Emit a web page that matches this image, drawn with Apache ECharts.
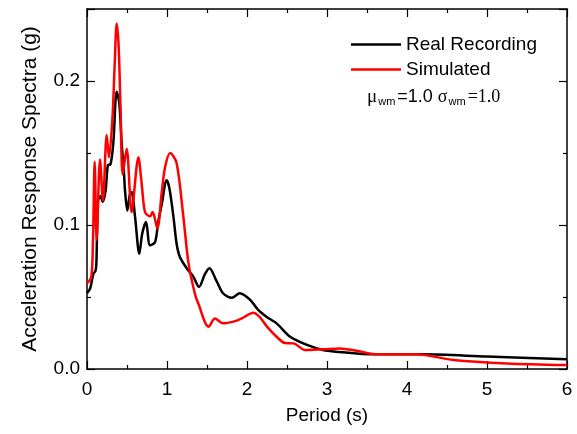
<!DOCTYPE html>
<html><head><meta charset="utf-8">
<script src="https://cdn.jsdelivr.net/npm/echarts@6/dist/echarts.min.js"></script>
<style>html,body{margin:0;padding:0;background:#fff}#c{width:577px;height:434px}</style>
</head><body><div id="c"></div>
<script>
var realPeriod = [0,0.04,0.079,0.105,0.117,0.1375,0.17,0.196,0.233,0.2625,0.292,0.329,0.371,0.404,0.433,0.4625,0.475,0.504,0.535,0.558,0.6,0.654,0.69,0.7375,0.7875,0.85,0.89,0.933,0.996,1.03,1.08,1.12,1.16,1.246,1.33,1.40,1.475,1.53,1.62,1.70,1.81,1.91,2.04,2.14,2.25,2.37,2.54,2.75,2.95,3.16,3.37,3.62,4.2,5.0,6.0];
var realSA = [0.0526,0.056,0.066,0.068,0.073,0.117,0.12,0.116,0.124,0.1417,0.142,0.157,0.1926,0.1845,0.157,0.136,0.124,0.110,0.121,0.123,0.106,0.080,0.094,0.102,0.086,0.088,0.102,0.114,0.131,0.1255,0.106,0.087,0.078,0.070,0.064,0.057,0.066,0.070,0.061,0.0526,0.0495,0.0526,0.048,0.041,0.036,0.0317,0.0224,0.0167,0.0132,0.0118,0.0108,0.0102,0.0102,0.0086,0.0067];
var simPeriod = [0,0.054,0.075,0.096,0.121,0.1625,0.2,0.246,0.275,0.317,0.345,0.371,0.395,0.42,0.446,0.496,0.558,0.642,0.683,0.725,0.7875,0.82,0.879,0.933,0.975,1.04,1.12,1.2,1.27,1.35,1.39,1.52,1.6,1.70,1.83,1.93,2.08,2.16,2.25,2.37,2.475,2.58,2.725,2.95,3.16,3.37,3.62,4.12,4.58,5.25,6.0];
var simSA = [0.0595,0.064,0.09,0.144,0.0896,0.1455,0.117,0.1625,0.147,0.173,0.21,0.240,0.225,0.18,0.135,0.153,0.109,0.147,0.129,0.109,0.106,0.109,0.0977,0.122,0.140,0.150,0.143,0.108,0.073,0.052,0.0456,0.0294,0.035,0.0317,0.0329,0.035,0.039,0.036,0.0294,0.0224,0.018,0.0178,0.0132,0.0137,0.0143,0.0127,0.0102,0.0102,0.0063,0.0039,0.0028];
var seriesNames = ['Real Recording','Simulated'];
var xTitle = 'Period (s)';
var yTitle = 'Acceleration Response Spectra (g)';

function pairs(a,b){return a.map(function(v,i){return [v,b[i]];});}
var FONT = '"Liberation Sans", Arial, sans-serif';
var chart = echarts.init(document.getElementById('c'), null, {renderer:'canvas'});
function axLine(){return {show:true, onZero:false, lineStyle:{color:'#000', width:1.5}};}
function tick(){return {show:true, inside:true, length:8, lineStyle:{color:'#000', width:1.2}};}
function mtick(){return {show:true, splitNumber:2, length:4, lineStyle:{color:'#000', width:1.2}};}
chart.setOption({
  animation:false,
  grid:{left:87, right:10, top:9, bottom:65},
  xAxis:[{
    type:'value', min:0, max:6, interval:1, position:'bottom',
    axisLine:axLine(), axisTick:tick(), minorTick:mtick(),
    splitLine:{show:false},
    axisLabel:{color:'#000', fontSize:19, fontFamily:FONT, margin:11},
    name:xTitle, nameLocation:'middle', nameGap:37,
    nameTextStyle:{color:'#000', fontSize:19, fontFamily:FONT}
  },{
    type:'value', min:0, max:6, interval:1, position:'top',
    axisLine:axLine(), axisTick:tick(), minorTick:mtick(),
    splitLine:{show:false}, axisLabel:{show:false}
  }],
  yAxis:[{
    type:'value', min:0, max:0.25, interval:0.1, position:'left',
    axisLine:axLine(), axisTick:tick(), minorTick:mtick(),
    splitLine:{show:false},
    axisLabel:{color:'#000', fontSize:19, fontFamily:FONT, margin:7, showMaxLabel:false,
      formatter:function(v){return v.toFixed(1);}},
    name:yTitle, nameLocation:'middle', nameGap:46,
    nameTextStyle:{color:'#000', fontSize:21, fontFamily:FONT}
  },{
    type:'value', min:0, max:0.25, interval:0.1, position:'right',
    axisLine:axLine(), axisTick:tick(), minorTick:mtick(),
    splitLine:{show:false}, axisLabel:{show:false}
  }],
  legend:{
    show:true, left:346, top:30, orient:'vertical', itemGap:6,
    itemWidth:50, itemHeight:21, icon:'path://M0,0 L50,0 L50,2.5 L0,2.5 Z',
    textStyle:{color:'#000', fontSize:19, fontFamily:FONT},
    data:seriesNames
  },
  series:[{
    name:seriesNames[0], type:'line', data:pairs(realPeriod, realSA),
    smooth:0.3, symbol:'none', lineStyle:{color:'#000', width:2.5}, itemStyle:{color:'#000'}, z:2
  },{
    name:seriesNames[1], type:'line', data:pairs(simPeriod, simSA),
    smooth:0.3, symbol:'none', lineStyle:{color:'#ff0000', width:2.5}, itemStyle:{color:'#ff0000'}, z:3
  }],
  graphic:[{
    type:'text', left:367, top:88,
    style:{
      text:'{a|\u03bc}{s|wm}{b|=1.0 }{t|\u03c3}{s|wm}{t|=1.0}',
      rich:{
        a:{fontFamily:'"Liberation Serif", serif', fontSize:19, fill:'#000'},
        b:{fontFamily:FONT, fontSize:18, fill:'#000'},
        t:{fontFamily:'"Liberation Serif", serif', fontSize:18, fill:'#000'},
        s:{fontFamily:FONT, fontSize:11, fill:'#000', verticalAlign:'bottom', padding:[9,2,0,1]}
      }
    }
  }]
});
</script></body></html>
